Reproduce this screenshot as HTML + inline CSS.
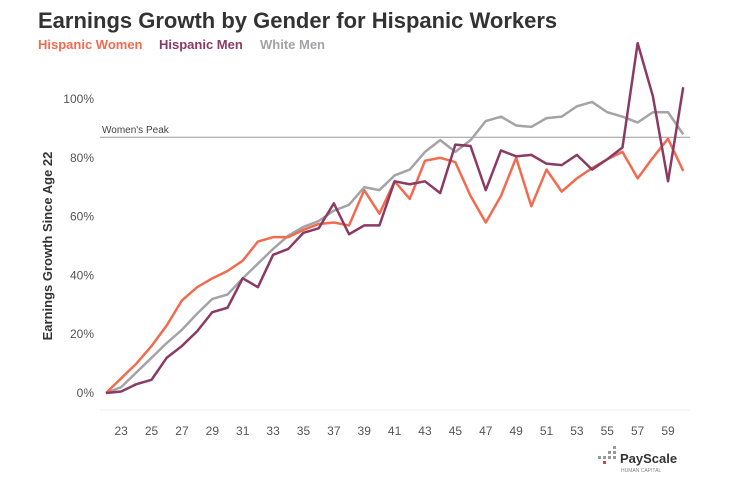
<!DOCTYPE html>
<html><head><meta charset="utf-8"><style>
body{margin:0;background:#fff;font-family:"Liberation Sans",sans-serif;}
</style></head><body>
<svg width="731" height="478" id="c" font-family="Liberation Sans, sans-serif">
<text x="38" y="28" font-size="22" font-weight="bold" fill="#333">Earnings Growth by Gender for Hispanic Workers</text>
<g font-size="13" font-weight="bold">
<text x="38" y="49" fill="#f26b50">Hispanic Women</text>
<text x="159" y="49" fill="#8b3a62">Hispanic Men</text>
<text x="260" y="49" fill="#a3a3a8">White Men</text>
</g>
<text transform="translate(52,246) rotate(-90)" text-anchor="middle" font-size="13" font-weight="bold" fill="#333">Earnings Growth Since Age 22</text>
<g id="g"></g>
<g>
<g fill="#999"><rect x="598" y="456" width="3" height="3"/><rect x="603" y="456" width="3" height="3"/><rect x="608" y="451" width="3" height="3"/><rect x="608" y="456" width="3" height="3"/><rect x="613" y="446" width="3" height="3"/><rect x="613" y="451" width="3" height="3"/><rect x="613" y="456" width="3" height="3"/></g>
<rect x="603" y="461" width="3" height="3" fill="#e63946"/>
<text x="620" y="463" font-size="13" font-weight="bold" fill="#333">PayScale</text>
<text x="621" y="472" font-size="5" fill="#888">HUMAN CAPITAL</text>
</g>
</svg>
<script>
const ages=[];for(let a=22;a<=60;a++)ages.push(a);
const women=[0,5,10,16,23,31.5,36,39,41.5,45,51.5,53,53,55.5,57.5,58,57,69,61,72,66,79,80,78.5,67,58,67,80,63.5,76,68.5,73,76.5,79.5,82,73,80,86.5,75.5];
const men=[0,0.5,3,4.5,12,16,21,27.5,29,39,36,47,49,54.5,56,64.5,54,57,57,72,71,72,68,84.5,84,69,82.5,80.5,81,78,77.5,81,76,79.5,83.5,119,101,72,104];
const white=[0,2,7,12,17,21.5,27,32,33.5,39,44,49,53.5,56.5,58.5,62,64,70,69,74,76,82,86,82,86,92.5,94,91,90.5,93.5,94,97.5,99,95.5,94,92,95.5,95.5,88];
const yTicks=[0,20,40,60,80,100];
const xTicks=[23,25,27,29,31,33,35,37,39,41,43,45,47,49,51,53,55,57,59];
const peak=87;
const X=a=>106+(a-22)*15.19, Y=v=>393-v*2.94;
const g=document.getElementById('g'),NS='http://www.w3.org/2000/svg';
function mk(t,at){const e=document.createElementNS(NS,t);for(const k in at)e.setAttribute(k,at[k]);g.appendChild(e);return e;}
yTicks.forEach(v=>{const t=mk('text',{x:94,y:Y(v)+4,'text-anchor':'end','font-size':12,fill:'#555'});t.textContent=v+'%';

});
xTicks.forEach(a=>{const t=mk('text',{x:X(a),y:435,'text-anchor':'middle','font-size':12,fill:'#555'});t.textContent=a;

});
const ax=mk('line',{x1:100,x2:690,y1:410,y2:410,stroke:'#eee'});


const pl=mk('line',{x1:100,x2:690,y1:Y(peak),y2:Y(peak),stroke:'#999','stroke-width':1});


const pt=mk('text',{x:102,y:Y(peak)-4,'font-size':10,fill:'#444'});pt.textContent="Women's Peak";


[[white,'#a3a3a8','white-men-line'],[women,'#f26b50','hispanic-women-line'],[men,'#8b3a62','hispanic-men-line']].forEach(([d,c,n])=>{
const p=mk('polyline',{points:d.map((v,i)=>X(ages[i])+','+Y(v)).join(' '),fill:'none',stroke:c,'stroke-width':2.5,'stroke-linejoin':'round'});

});
</script>
</body></html>
